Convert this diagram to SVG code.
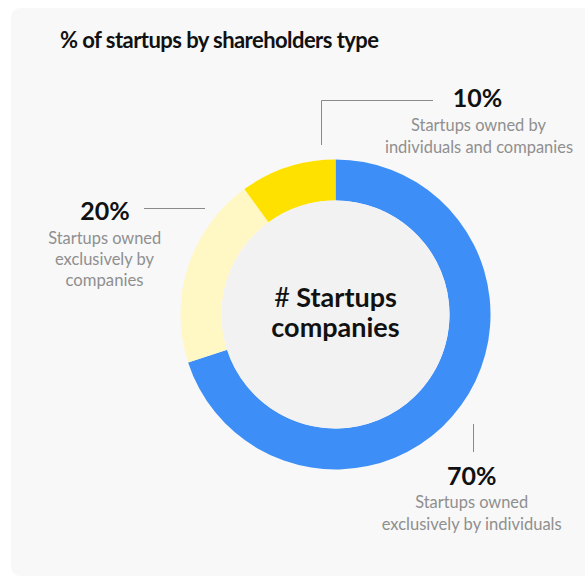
<svg xmlns="http://www.w3.org/2000/svg" width="585" height="577" viewBox="0 0 585 577">
<style>
.title{font-family:Lato,"Liberation Sans",sans-serif;font-weight:700;font-size:22px;fill:#111}
.pct{font-family:Lato,"Liberation Sans",sans-serif;font-weight:700;font-size:25px;fill:#111;text-anchor:middle}
.desc{font-family:Lato,"Liberation Sans",sans-serif;font-weight:400;font-size:17.5px;fill:#8f8f8f;text-anchor:middle}
.center{font-family:Lato,"Liberation Sans",sans-serif;font-weight:700;font-size:27px;fill:#111;text-anchor:middle}
.lead{fill:none;stroke:#8a8a8a;stroke-width:1}
</style>
<rect x="0" y="0" width="585" height="577" fill="#ffffff"/>
<rect x="11" y="8" width="590" height="568" rx="9" fill="#f8f8f8"/>
<text class="title" x="60" y="48" textLength="319" lengthAdjust="spacing">% of startups by shareholders type</text>
<g id="donut">
<path id="seg-70" d="M335.5,159.5 A155,155 0 1 1 188.09,362.40 L227.08,349.73 A114,114 0 1 0 335.5,200.5 Z" fill="#3e8ef8"/>
<path id="seg-20" d="M188.09,362.40 A155,155 0 0 1 244.39,189.10 L268.49,222.27 A114,114 0 0 0 227.08,349.73 Z" fill="#fff7c4"/>
<path id="seg-10" d="M244.39,189.10 A155,155 0 0 1 335.5,159.5 L335.5,200.5 A114,114 0 0 0 268.49,222.27 Z" fill="#ffe100"/>
<circle cx="335.5" cy="314.5" r="114" fill="#f2f2f2"/>
</g>
<g id="center-label">
<text class="center" x="335.5" y="307"><tspan font-weight="400">#</tspan> Startups</text>
<text class="center" x="335.5" y="337">companies</text>
</g>
<g id="connectors">
<polyline class="lead" points="433,100.5 321.5,100.5 321.5,145"/>
<line class="lead" x1="144" y1="208.5" x2="205" y2="208.5"/>
<line class="lead" x1="473.5" y1="424" x2="473.5" y2="452"/>
</g>
<g id="label-10">
<text class="pct" x="477.5" y="107">10%</text>
<text class="desc" x="478.5" y="131" textLength="135" lengthAdjust="spacingAndGlyphs">Startups owned by</text>
<text class="desc" x="479" y="153" textLength="188" lengthAdjust="spacingAndGlyphs">individuals and companies</text>
</g>
<g id="label-20">
<text class="pct" x="105" y="220">20%</text>
<text class="desc" x="104.7" y="243.5" textLength="113" lengthAdjust="spacingAndGlyphs">Startups owned</text>
<text class="desc" x="104.5" y="264.5" textLength="99" lengthAdjust="spacingAndGlyphs">exclusively by</text>
<text class="desc" x="104.5" y="286" textLength="78" lengthAdjust="spacingAndGlyphs">companies</text>
</g>
<g id="label-70">
<text class="pct" x="471.7" y="485">70%</text>
<text class="desc" x="471.7" y="507.5" textLength="113" lengthAdjust="spacingAndGlyphs">Startups owned</text>
<text class="desc" x="471.7" y="529.5" textLength="180" lengthAdjust="spacingAndGlyphs">exclusively by individuals</text>
</g>
</svg>
